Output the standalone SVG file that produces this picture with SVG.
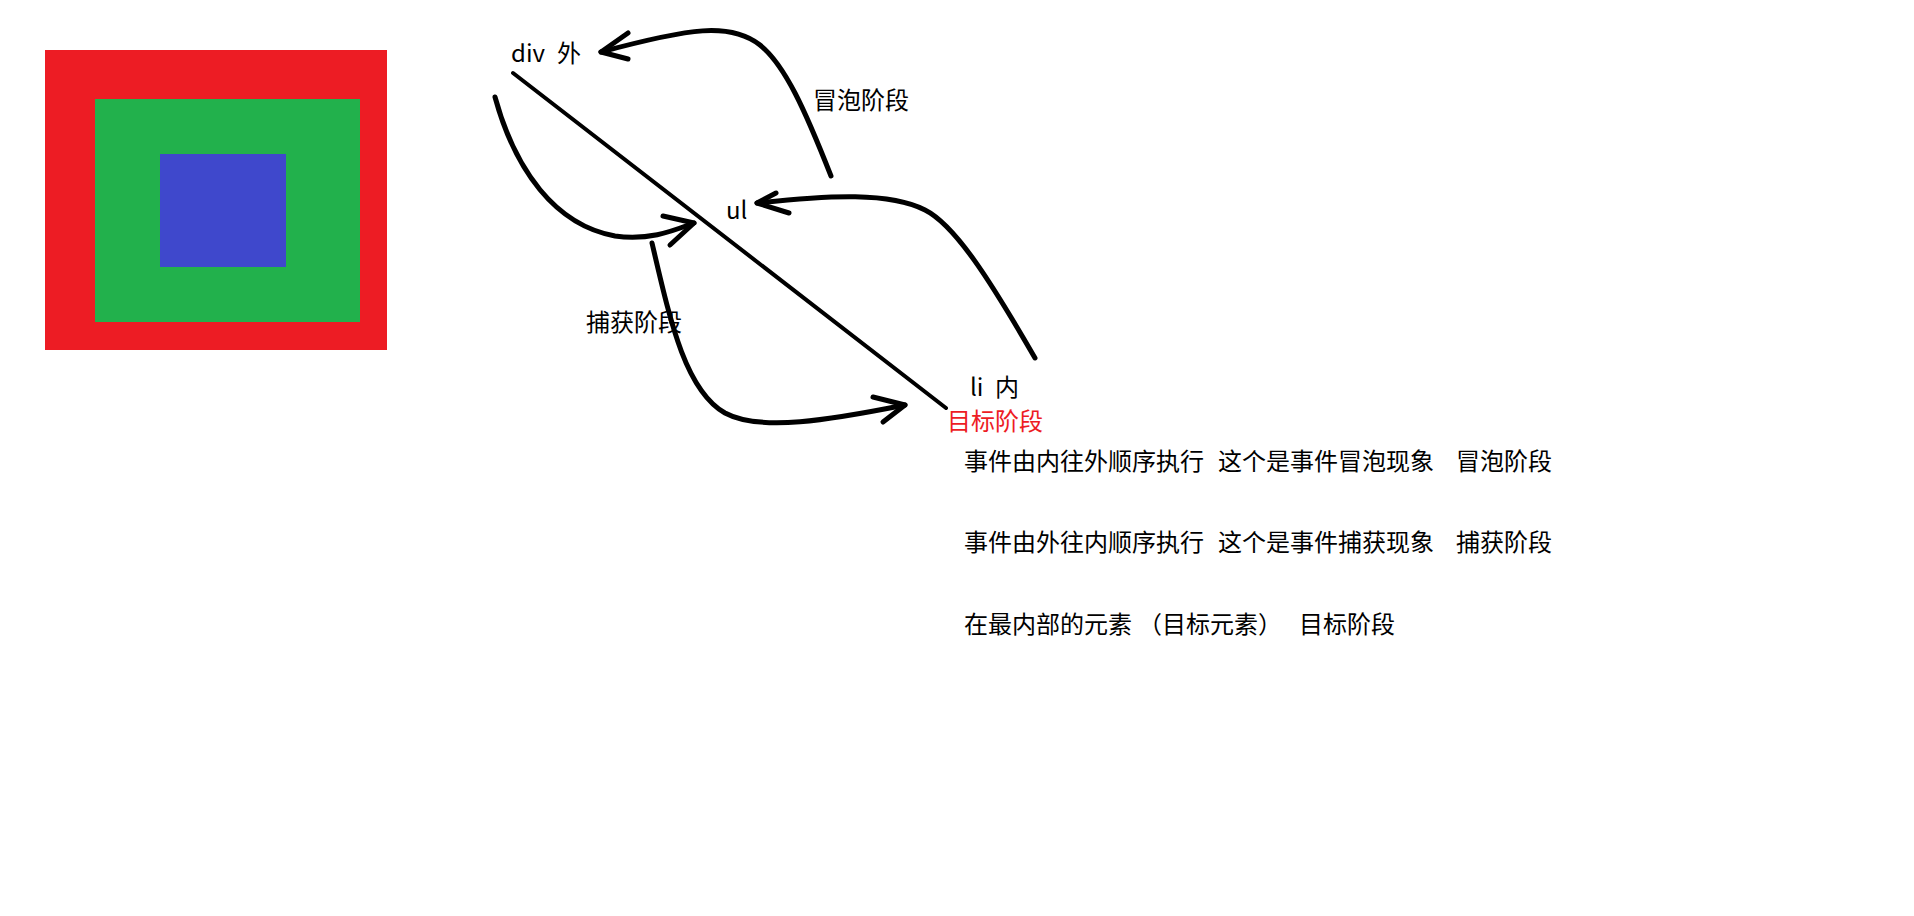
<svg xmlns="http://www.w3.org/2000/svg" width="1914" height="916" viewBox="0 0 1914 916">
<style>
.t{font-family:"Noto Sans CJK SC","Noto Sans",sans-serif;font-size:24px;fill:#000}
.r{fill:#ED1C24}
.c{fill:none;stroke:#000;stroke-width:5;stroke-linecap:round;stroke-linejoin:round}
.l{fill:none;stroke:#000;stroke-width:4;stroke-linecap:round}
</style>
<rect width="1914" height="916" fill="#fff"/>
<g id="boxes">
<rect x="45" y="50" width="342" height="300" fill="#ED1C24"/>
<rect x="95" y="99" width="265" height="223" fill="#22B14C"/>
<rect x="160" y="154" width="126" height="113" fill="#3F48CC"/>
</g>
<g id="node-div"><text class="t" x="511" y="62">div</text><text class="t" x="557" y="62">外</text></g>
<g id="node-ul"><text class="t" x="726" y="219">ul</text></g>
<g id="node-li"><text class="t" x="970" y="396">li</text><text class="t" x="995" y="396">内</text><text class="t r" x="947" y="430">目标阶段</text></g>
<g id="labels">
<text class="t" x="813" y="109">冒泡阶段</text>
<text class="t" x="586" y="331">捕获阶段</text>
</g>
<g id="connectors">
<path class="l" d="M513,73 L946,408"/>
<path class="c" d="M831,176 C805,110 785,65 760,45 C730,22 690,28 601,52"/>
<path class="c" d="M628,33 L601,52 L628,59"/>
<path class="c" d="M1035,358 C990,280 955,225 925,210 C890,192 830,195 757,203"/>
<path class="c" d="M776,193 L757,203 L789,213"/>
<path class="c" d="M495,97 C515,170 555,225 615,236 C650,241 675,230 694,223"/>
<path class="c" d="M663,216 L694,223 L670,245"/>
<path class="c" d="M652,243 C670,320 685,390 725,413 C760,432 830,420 905,405"/>
<path class="c" d="M873,397 L905,405 L883,422"/>
</g>
<g id="notes">
<text class="t" x="964" y="470">事件由内往外顺序执行</text>
<text class="t" x="1218" y="470">这个是事件冒泡现象</text>
<text class="t" x="1456" y="470">冒泡阶段</text>
<text class="t" x="964" y="551">事件由外往内顺序执行</text>
<text class="t" x="1218" y="551">这个是事件捕获现象</text>
<text class="t" x="1456" y="551">捕获阶段</text>
<text class="t" x="964" y="633">在最内部的元素</text>
<text class="t" x="1138" y="633">（目标元素）</text>
<text class="t" x="1299" y="633">目标阶段</text>
</g>
</svg>
